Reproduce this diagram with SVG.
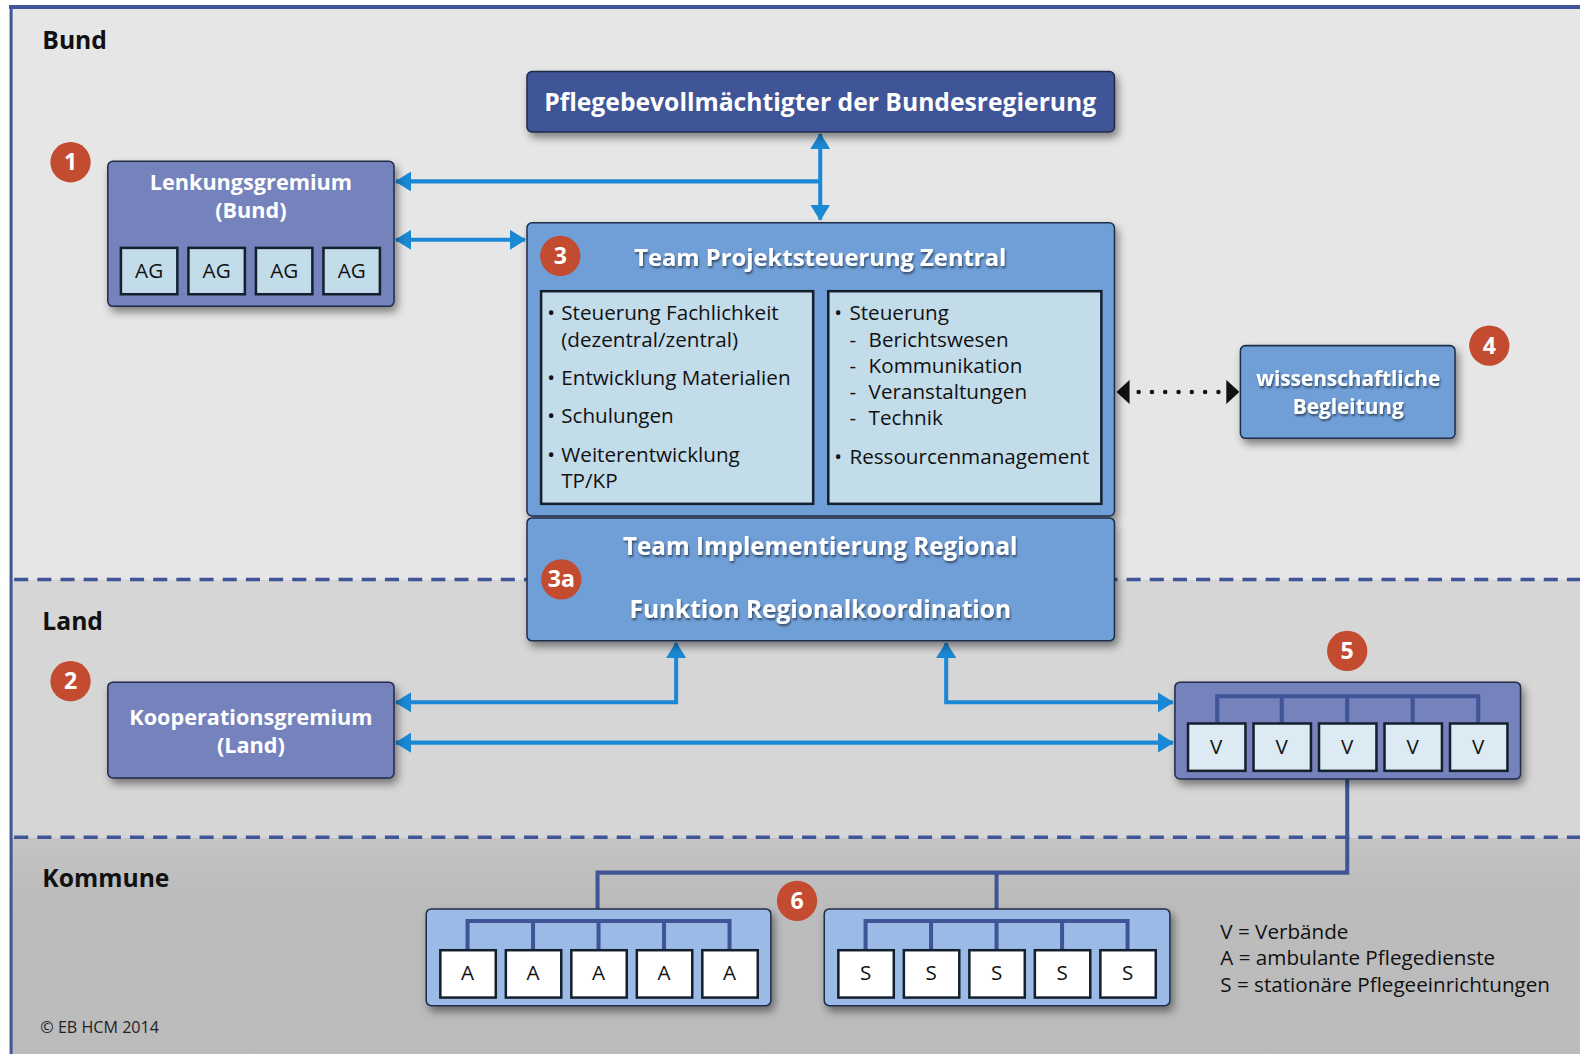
<svg xmlns="http://www.w3.org/2000/svg" width="1580" height="1054" viewBox="0 0 1580 1054">
<defs>
<style>
.lbl{font-family:"Open Sans","Liberation Sans",sans-serif;}
.zone{font-family:"Open Sans","Liberation Sans",sans-serif;font-weight:bold;font-size:24.5px;fill:#111;}
.wt{font-family:"Open Sans","Liberation Sans",sans-serif;font-weight:bold;fill:#fff;text-anchor:middle;}
.bt{font-family:"Open Sans","Liberation Sans",sans-serif;font-size:20.5px;fill:#111;}
.cell{font-family:"Open Sans","Liberation Sans",sans-serif;font-size:20.5px;fill:#111;text-anchor:middle;}
.badge circle{fill:#c24b30;}
.badge text{font-family:"Open Sans","Liberation Sans",sans-serif;font-weight:bold;font-size:23px;fill:#fff;text-anchor:middle;}
.dark{fill:#3f5597;stroke:#1f2b4a;stroke-width:1.5;}
.mid{fill:#7482bc;stroke:#22294a;stroke-width:1.5;}
.lite{fill:#6f9fd8;stroke:#1f2e4a;stroke-width:1.5;}
.pale{fill:#9bbbe6;stroke:#1f2e4a;stroke-width:1.5;}
.inner{fill:#c3dcea;stroke:#15202e;stroke-width:2.5;}
.vbox{fill:#dceaf4;stroke:#15202e;stroke-width:2.5;}
.wbox{fill:#ffffff;stroke:#15202e;stroke-width:2.5;}
.br{fill:none;stroke:#3f5597;stroke-width:4;}
.ar{fill:none;stroke:#1a88d4;stroke-width:4;}
.dash{fill:none;stroke:#3f5597;stroke-width:3.5;stroke-dasharray:14 9;}
</style>
<marker id="ah" viewBox="0 0 16 20" refX="15" refY="10" markerWidth="16" markerHeight="20" markerUnits="userSpaceOnUse" orient="auto-start-reverse">
<path d="M0,0 L16,10 L0,20 z" fill="#1a88d4"/>
</marker>
<marker id="bh" viewBox="0 0 13 24" refX="13" refY="12" markerWidth="13" markerHeight="24" markerUnits="userSpaceOnUse" orient="auto-start-reverse">
<path d="M0,0 L13,12 L0,24 z" fill="#111"/>
</marker>
<filter id="sh" x="-10%" y="-20%" width="125%" height="150%">
<feDropShadow dx="3" dy="5" stdDeviation="4" flood-color="#000" flood-opacity="0.45"/>
</filter>
<filter id="tsh" x="-5%" y="-30%" width="110%" height="160%">
<feDropShadow dx="1" dy="2" stdDeviation="1.2" flood-color="#000" flood-opacity="0.55"/>
</filter>
<linearGradient id="kg" x1="0" y1="0" x2="0" y2="1">
<stop offset="0" stop-color="#c4c4c5"/>
<stop offset="0.25" stop-color="#bcbcbd"/>
<stop offset="1" stop-color="#bbbbbc"/>
</linearGradient>
</defs>

<rect x="0" y="0" width="1580" height="1054" fill="#ffffff"/>
<g transform="scale(1.00765)">
<!-- background zones -->
<rect x="11" y="7" width="1569" height="568" fill="#e6e6e6"/>
<rect x="11" y="575" width="1569" height="256" fill="#d6d6d6"/>
<rect x="11" y="831" width="1569" height="223" fill="url(#kg)"/>
<line x1="9" y1="7" x2="1580" y2="7" stroke="#3f5597" stroke-width="4"/>
<line x1="11" y1="5" x2="11" y2="1054" stroke="#3f5597" stroke-width="3"/>
<line class="dash" x1="14" y1="575" x2="1580" y2="575"/>
<line class="dash" x1="14" y1="831" x2="1580" y2="831"/>

<text class="zone" x="42" y="49">Bund</text>
<text class="zone" x="42" y="625">Land</text>
<text class="zone" x="42" y="880">Kommune</text>
<text class="lbl" x="40" y="1025" font-size="16" fill="#222">© EB HCM 2014</text>

<!-- connectors -->
<g id="connectors">
<path class="ar" d="M814,180 H393" marker-end="url(#ah)"/>
<path class="ar" d="M814,133 V218" marker-start="url(#ah)" marker-end="url(#ah)"/>
<path class="ar" d="M393,238 H521" marker-start="url(#ah)" marker-end="url(#ah)"/>
<path class="ar" d="M393,697 H671 V638" marker-start="url(#ah)" marker-end="url(#ah)"/>
<path class="ar" d="M393,737 H1164" marker-start="url(#ah)" marker-end="url(#ah)"/>
<path class="ar" d="M939,638 V697 H1164" marker-start="url(#ah)" marker-end="url(#ah)"/>
<path d="M1130,389 H1210" fill="none" stroke="#111" stroke-width="4.5" stroke-linecap="round" stroke-dasharray="0 13.2"/>
<path d="M1108,389 H1230" fill="none" stroke="none" marker-start="url(#bh)" marker-end="url(#bh)"/>
<path class="br" d="M1337,773 V866 H593 V902 M989,866 V902"/>
</g>

<!-- Pflegebevollmächtigter -->
<g id="pflegebevollmaechtigter">
<rect class="dark" x="523" y="71" width="583" height="60" rx="5" filter="url(#sh)"/>
<text class="wt" x="814" y="110" font-size="24.5">Pflegebevollmächtigter der Bundesregierung</text>
</g>

<!-- Lenkungsgremium -->
<g id="lenkungsgremium">
<rect class="mid" x="107" y="160" width="284" height="144" rx="5" filter="url(#sh)"/>
<text class="wt" x="249" y="189" font-size="21.5">Lenkungsgremium</text>
<text class="wt" x="249" y="216" font-size="21.5">(Bund)</text>
<rect class="inner" x="120" y="246" width="56" height="46"/>
<rect class="inner" x="187" y="246" width="56" height="46"/>
<rect class="inner" x="254" y="246" width="56" height="46"/>
<rect class="inner" x="321" y="246" width="56" height="46"/>
<text class="cell" x="148" y="276">AG</text>
<text class="cell" x="215" y="276">AG</text>
<text class="cell" x="282" y="276">AG</text>
<text class="cell" x="349" y="276">AG</text>
</g>
<g id="badge1" class="badge"><circle cx="70" cy="161" r="20"/><text x="70" y="169">1</text></g>

<!-- Team Projektsteuerung Zentral -->
<g id="team-zentral">
<rect class="lite" x="523" y="221" width="583" height="291" rx="5" filter="url(#sh)"/>
<text class="wt" x="814" y="264" font-size="23.6" filter="url(#tsh)">Team Projektsteuerung Zentral</text>
<rect class="inner" x="537" y="289" width="270" height="211"/>
<rect class="inner" x="822" y="289" width="271" height="211"/>
<g class="bt">
<text x="543" y="318">•</text><text x="557" y="318">Steuerung Fachlichkeit</text>
<text x="557" y="344">(dezentral/zentral)</text>
<text x="543" y="382">•</text><text x="557" y="382">Entwicklung Materialien</text>
<text x="543" y="420">•</text><text x="557" y="420">Schulungen</text>
<text x="543" y="458">•</text><text x="557" y="458">Weiterentwicklung</text>
<text x="557" y="484">TP/KP</text>
<text x="828" y="318">•</text><text x="843" y="318">Steuerung</text>
<text x="843" y="344">-</text><text x="862" y="344">Berichtswesen</text>
<text x="843" y="370">-</text><text x="862" y="370">Kommunikation</text>
<text x="843" y="396">-</text><text x="862" y="396">Veranstaltungen</text>
<text x="843" y="422">-</text><text x="862" y="422">Technik</text>
<text x="828" y="460">•</text><text x="843" y="460">Ressourcenmanagement</text>
</g>
</g>
<g id="badge3" class="badge"><circle cx="556" cy="254" r="20"/><text x="556" y="262">3</text></g>

<!-- Team Implementierung Regional -->
<g id="team-regional">
<rect class="lite" x="523" y="514" width="583" height="122" rx="5" filter="url(#sh)"/>
<text class="wt" x="814" y="551" font-size="24" filter="url(#tsh)">Team Implementierung Regional</text>
<text class="wt" x="814" y="613" font-size="24.3" filter="url(#tsh)">Funktion Regionalkoordination</text>
</g>
<g id="badge3a" class="badge"><circle cx="557" cy="575" r="20"/><text x="557" y="583">3a</text></g>

<!-- wissenschaftliche Begleitung -->
<g id="wissenschaft">
<rect class="lite" x="1231" y="343" width="213" height="92" rx="5" filter="url(#sh)"/>
<text class="wt" x="1338" y="383" font-size="20.6" filter="url(#tsh)">wissenschaftliche</text>
<text class="wt" x="1338" y="411" font-size="20.6" filter="url(#tsh)">Begleitung</text>
</g>
<g id="badge4" class="badge"><circle cx="1478" cy="343" r="20"/><text x="1478" y="351">4</text></g>

<!-- Kooperationsgremium -->
<g id="kooperationsgremium">
<rect class="mid" x="107" y="677" width="284" height="95" rx="5" filter="url(#sh)"/>
<text class="wt" x="249" y="719" font-size="21.5">Kooperationsgremium</text>
<text class="wt" x="249" y="747" font-size="21.5">(Land)</text>
</g>
<g id="badge2" class="badge"><circle cx="70" cy="676" r="20"/><text x="70" y="684">2</text></g>

<!-- Verbände -->
<g id="verbaende">
<rect class="mid" x="1166" y="677" width="343" height="96" rx="5" filter="url(#sh)"/>
<path class="br" d="M1208,718 V691 H1467 V718 M1272,691 V718 M1337,691 V718 M1402,691 V718"/>
<rect class="vbox" x="1179" y="718" width="57" height="47"/>
<rect class="vbox" x="1244" y="718" width="57" height="47"/>
<rect class="vbox" x="1309" y="718" width="57" height="47"/>
<rect class="vbox" x="1374" y="718" width="57" height="47"/>
<rect class="vbox" x="1439" y="718" width="57" height="47"/>
<text class="cell" x="1207" y="748">V</text>
<text class="cell" x="1272" y="748">V</text>
<text class="cell" x="1337" y="748">V</text>
<text class="cell" x="1402" y="748">V</text>
<text class="cell" x="1467" y="748">V</text>
</g>
<g id="badge5" class="badge"><circle cx="1337" cy="646" r="20"/><text x="1337" y="654">5</text></g>

<!-- ambulante Pflegedienste -->
<g id="ambulant">
<rect class="pale" x="423" y="902" width="342" height="96" rx="5" filter="url(#sh)"/>
<path class="br" d="M464,943 V914 H724 V943 M529,914 V943 M594,914 V943 M659,914 V943"/>
<rect class="wbox" x="437" y="943" width="55" height="47"/>
<rect class="wbox" x="502" y="943" width="55" height="47"/>
<rect class="wbox" x="567" y="943" width="55" height="47"/>
<rect class="wbox" x="632" y="943" width="55" height="47"/>
<rect class="wbox" x="697" y="943" width="55" height="47"/>
<text class="cell" x="464" y="973">A</text>
<text class="cell" x="529" y="973">A</text>
<text class="cell" x="594" y="973">A</text>
<text class="cell" x="659" y="973">A</text>
<text class="cell" x="724" y="973">A</text>
</g>
<g id="badge6" class="badge"><circle cx="791" cy="894" r="20"/><text x="791" y="902">6</text></g>

<!-- stationaere Pflegeeinrichtungen -->
<g id="stationaer">
<rect class="pale" x="818" y="902" width="343" height="96" rx="5" filter="url(#sh)"/>
<path class="br" d="M859,943 V914 H1119 V943 M924,914 V943 M989,914 V943 M1054,914 V943"/>
<rect class="wbox" x="832" y="943" width="55" height="47"/>
<rect class="wbox" x="897" y="943" width="55" height="47"/>
<rect class="wbox" x="962" y="943" width="55" height="47"/>
<rect class="wbox" x="1027" y="943" width="55" height="47"/>
<rect class="wbox" x="1092" y="943" width="55" height="47"/>
<text class="cell" x="859" y="973">S</text>
<text class="cell" x="924" y="973">S</text>
<text class="cell" x="989" y="973">S</text>
<text class="cell" x="1054" y="973">S</text>
<text class="cell" x="1119" y="973">S</text>
</g>

<!-- legend -->
<g id="legend" class="bt" fill="#222">
<text x="1211" y="932">V = Verbände</text>
<text x="1211" y="958">A = ambulante Pflegedienste</text>
<text x="1211" y="984">S = stationäre Pflegeeinrichtungen</text>
</g>
</g>
</svg>
